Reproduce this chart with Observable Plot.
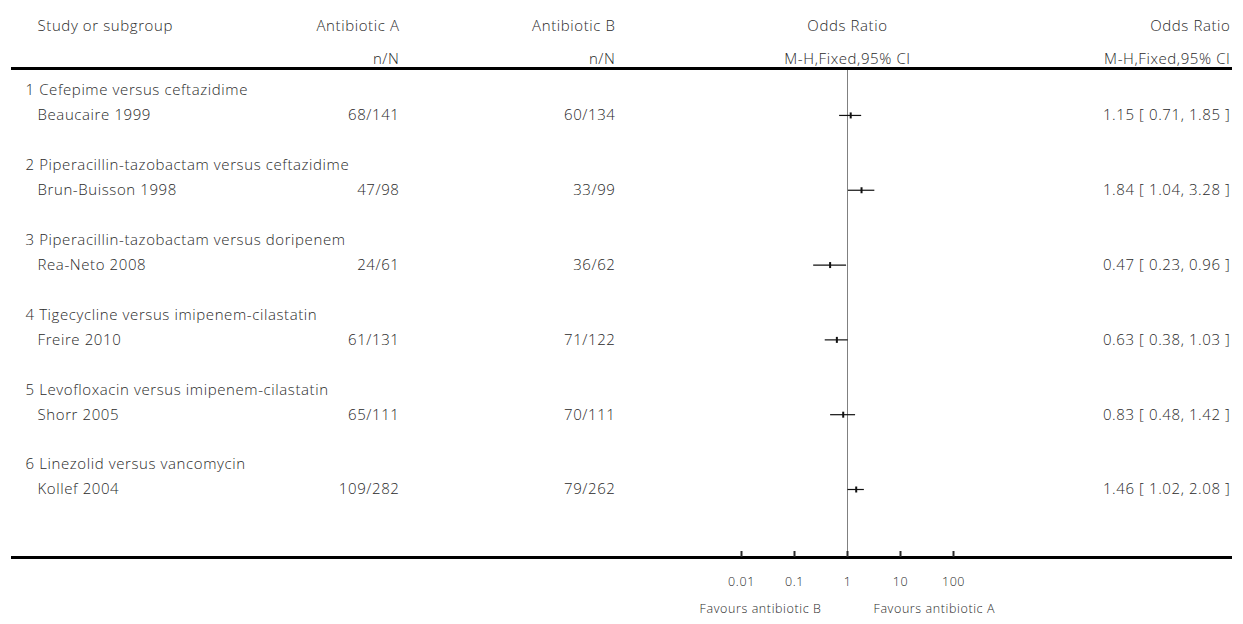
<!DOCTYPE html>
<html>
<head>
<meta charset="utf-8">
<script src="https://cdn.jsdelivr.net/npm/d3@7"></script>
<script src="https://cdn.jsdelivr.net/npm/@observablehq/plot@0.6"></script>
<style>
  html, body { margin: 0; padding: 0; background: #fff; }
  #chart { width: 1243px; height: 624px; }
  #chart svg text { letter-spacing: 0.6px; }
</style>
</head>
<body>
<div id="chart"></div>
<script>
// Subgroups (comparisons) and the single study in each
const subgroups = [
  "1 Cefepime versus ceftazidime",
  "2 Piperacillin-tazobactam versus ceftazidime",
  "3 Piperacillin-tazobactam versus doripenem",
  "4 Tigecycline versus imipenem-cilastatin",
  "5 Levofloxacin versus imipenem-cilastatin",
  "6 Linezolid versus vancomycin"
];
const studies = ["Beaucaire 1999", "Brun-Buisson 1998", "Rea-Neto 2008", "Freire 2010", "Shorr 2005", "Kollef 2004"];
const eventsA = [68, 47, 24, 61, 65, 109];
const totalA  = [141, 98, 61, 131, 111, 282];
const eventsB = [60, 33, 36, 71, 70, 79];
const totalB  = [134, 99, 62, 122, 111, 262];
const oddsRatio = [1.15, 1.84, 0.47, 0.63, 0.83, 1.46];
const ciLow     = [0.71, 1.04, 0.23, 0.38, 0.48, 1.02];
const ciHigh    = [1.85, 3.28, 0.96, 1.03, 1.42, 2.08];
const tickValues = [0.01, 0.1, 1, 10, 100];
const tickLabels = ["0.01", "0.1", "1", "10", "100"];

// Row layout: each subgroup heading is followed by its study row, then a gap
const groupRows = subgroups.map((name, i) => ({name, row: 3 * i}));
const studyRows = studies.map((name, i) => ({
  name,
  row: 3 * i + 1,
  a: `${eventsA[i]}/${totalA[i]}`,
  b: `${eventsB[i]}/${totalB[i]}`,
  or: oddsRatio[i],
  lo: ciLow[i],
  hi: ciHigh[i],
  label: `${oddsRatio[i].toFixed(2)} [ ${ciLow[i].toFixed(2)}, ${ciHigh[i].toFixed(2)} ]`
}));
const lastRow = studyRows[studyRows.length - 1].row;

// Point estimate drawn as a thin vertical bar
const bar = { draw(ctx) { ctx.rect(-1, -3, 2, 6); } };

const font = "'Open Sans', 'Lato', sans-serif";
const ink = "#2a2a2a";
const txt = {fill: ink, fontWeight: 300};

const chart = Plot.plot({
  width: 1243,
  height: 624,
  marginLeft: 11,
  marginRight: 11,
  marginTop: 68,
  marginBottom: 67,
  style: {fontFamily: font, fontSize: "15px", color: ink, background: "#fff"},
  x: {type: "log", domain: [0.01, 100], range: [741, 953], axis: null},
  y: {domain: [0, lastRow], range: [90, 489], axis: null},
  marks: [
    // line of no effect
    Plot.ruleX([1], {stroke: "#808080", strokeWidth: 1}),
    // header and footer separators
    Plot.ruleY([0], {stroke: "#000", strokeWidth: 3, dy: -22}),
    Plot.ruleY([lastRow], {stroke: "#000", strokeWidth: 3, dy: 68}),
    // log axis along the footer line, ticks pointing up
    Plot.axisX({
      anchor: "bottom", ticks: tickValues,
      tickFormat: (d) => tickLabels[tickValues.indexOf(d)],
      tickSize: -6, tickPadding: 26, strokeWidth: 2, label: null,
      fontSize: 12.5, fill: ink, fontWeight: 300
    }),
    Plot.text(["Favours antibiotic B"], {x: () => 1, frameAnchor: "bottom", dy: 55, dx: -26, textAnchor: "end", fontSize: 12.5, ...txt}),
    Plot.text(["Favours antibiotic A"], {x: () => 1, frameAnchor: "bottom", dy: 55, dx: 26, textAnchor: "start", fontSize: 12.5, ...txt}),
    // column headers
    Plot.text(["Study or subgroup"], {frameAnchor: "top-left", dx: 26, dy: -48, textAnchor: "start", ...txt}),
    Plot.text(["Antibiotic A"], {frameAnchor: "top-left", dx: 388, dy: -48, textAnchor: "end", ...txt}),
    Plot.text(["n/N"], {frameAnchor: "top-left", dx: 388, dy: -15, textAnchor: "end", ...txt}),
    Plot.text(["Antibiotic B"], {frameAnchor: "top-left", dx: 604, dy: -48, textAnchor: "end", ...txt}),
    Plot.text(["n/N"], {frameAnchor: "top-left", dx: 604, dy: -15, textAnchor: "end", ...txt}),
    Plot.text(["Odds Ratio"], {x: () => 1, frameAnchor: "top", dy: -48, textAnchor: "middle", ...txt}),
    Plot.text(["M-H,Fixed,95% CI"], {x: () => 1, frameAnchor: "top", dy: -15, textAnchor: "middle", ...txt}),
    Plot.text(["Odds Ratio"], {frameAnchor: "top-right", dx: -2, dy: -48, textAnchor: "end", ...txt}),
    Plot.text(["M-H,Fixed,95% CI"], {frameAnchor: "top-right", dx: -2, dy: -15, textAnchor: "end", ...txt}),
    // subgroup headings
    Plot.text(groupRows, {y: "row", text: "name", frameAnchor: "left", dx: 14, textAnchor: "start", ...txt}),
    // study rows
    Plot.text(studyRows, {y: "row", text: "name", frameAnchor: "left", dx: 26, textAnchor: "start", ...txt}),
    Plot.text(studyRows, {y: "row", text: "a", frameAnchor: "left", dx: 388, textAnchor: "end", ...txt}),
    Plot.text(studyRows, {y: "row", text: "b", frameAnchor: "left", dx: 604, textAnchor: "end", ...txt}),
    Plot.text(studyRows, {y: "row", text: "label", frameAnchor: "right", dx: -2, textAnchor: "end", ...txt}),
    // confidence intervals and point estimates
    Plot.ruleY(studyRows, {y: "row", x1: "lo", x2: "hi", stroke: "#111", strokeWidth: 1.2}),
    Plot.dot(studyRows, {x: "or", y: "row", symbol: bar, fill: "#111", stroke: null})
  ]
});

document.getElementById("chart").appendChild(chart);
</script>
</body>
</html>
